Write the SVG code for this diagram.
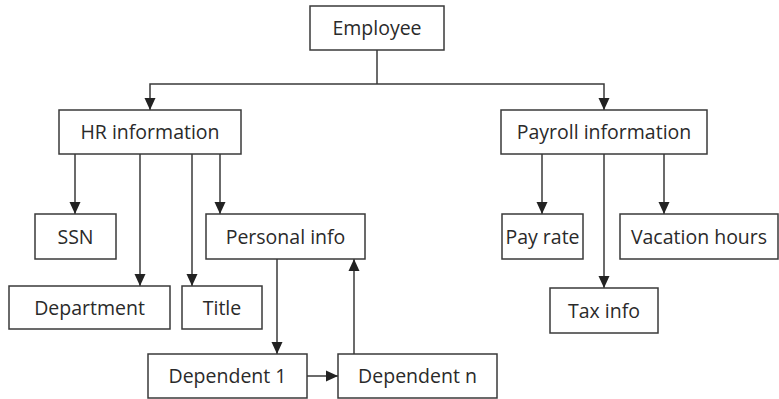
<svg xmlns="http://www.w3.org/2000/svg" width="779" height="399" viewBox="0 0 779 399">
<style>
.box{fill:#fff;stroke:#3a3a3a;stroke-width:1.5}
.lbl{font-family:"Open Sans","Noto Sans",sans-serif;font-size:19.5px;fill:#2a2a2a;text-anchor:middle}
.ln{fill:none;stroke:#3a3a3a;stroke-width:1.5}
.ar{fill:none;stroke:#3a3a3a;stroke-width:1.5;marker-end:url(#ah)}
</style>
<defs>
<marker id="ah" markerUnits="userSpaceOnUse" markerWidth="12" markerHeight="12" viewBox="0 0 12 12" refX="12" refY="6" orient="auto">
<path d="M0,0.5 L12,6 L0,11.5 z" fill="#222"/>
</marker>
</defs>
<rect width="779" height="399" fill="#fff"/>
<g id="connectors">
<path class="ln" d="M377,50 V84"/>
<path class="ar" d="M377,84 H150 V110"/>
<path class="ar" d="M377,84 H604 V110"/>
<path class="ar" d="M75,154 V214"/>
<path class="ar" d="M140,154 V286"/>
<path class="ar" d="M192,154 V286"/>
<path class="ar" d="M220,154 V214"/>
<path class="ar" d="M277,259 V354"/>
<path class="ar" d="M307,376 H338"/>
<path class="ar" d="M354,354 V259"/>
<path class="ar" d="M542,154 V214"/>
<path class="ar" d="M604,154 V288"/>
<path class="ar" d="M664,154 V214"/>
</g>
<g id="employee"><rect class="box" x="310" y="6" width="134" height="44"/><text class="lbl" x="377" y="35">Employee</text></g>
<g id="hr"><rect class="box" x="59" y="110" width="182" height="44"/><text class="lbl" x="150" y="139">HR information</text></g>
<g id="payroll"><rect class="box" x="501" y="110" width="206" height="44"/><text class="lbl" x="604" y="139">Payroll information</text></g>
<g id="ssn"><rect class="box" x="35" y="214" width="81" height="45"/><text class="lbl" x="75.5" y="243.5">SSN</text></g>
<g id="personal"><rect class="box" x="206" y="214" width="159" height="45"/><text class="lbl" x="285.5" y="243.5">Personal info</text></g>
<g id="department"><rect class="box" x="9" y="286" width="161" height="43"/><text class="lbl" x="89.5" y="314.5">Department</text></g>
<g id="title"><rect class="box" x="182" y="286" width="80" height="43"/><text class="lbl" x="222" y="314.5">Title</text></g>
<g id="dep1"><rect class="box" x="148" y="354" width="159" height="44"/><text class="lbl" x="227.5" y="383">Dependent 1</text></g>
<g id="depn"><rect class="box" x="338" y="354" width="159" height="44"/><text class="lbl" x="417.5" y="383">Dependent n</text></g>
<g id="payrate"><rect class="box" x="502" y="214" width="81" height="45"/><text class="lbl" x="542.5" y="243.5">Pay rate</text></g>
<g id="vacation"><rect class="box" x="620" y="214" width="158" height="45"/><text class="lbl" x="699" y="243.5">Vacation hours</text></g>
<g id="tax"><rect class="box" x="550" y="288" width="108" height="45"/><text class="lbl" x="604" y="317.5">Tax info</text></g>
</svg>
